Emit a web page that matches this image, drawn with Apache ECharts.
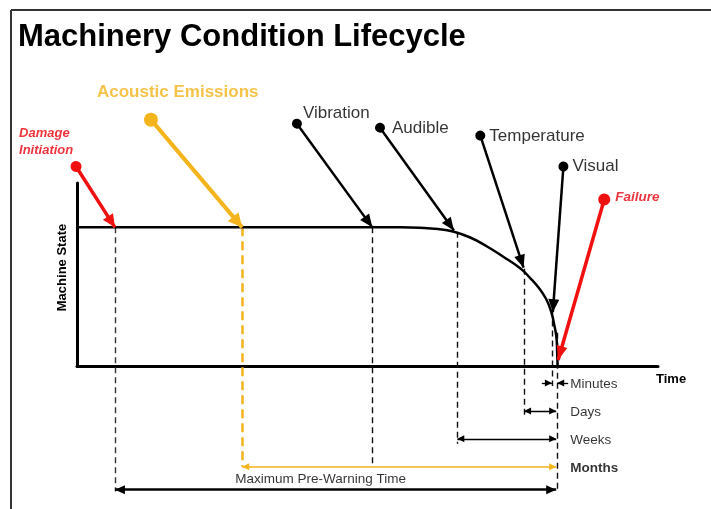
<!DOCTYPE html>
<html>
<head>
<meta charset="utf-8">
<script src="https://cdn.jsdelivr.net/npm/echarts@6/dist/echarts.min.js"></script>
<style>
  html, body { margin: 0; padding: 0; background: #fff; }
  #main { width: 711px; height: 509px; }
</style>
</head>
<body>
<div id="main"></div>
<script>
// time: 0 = damage initiation, 100 = failure; state: 100 = healthy, 0 = failed
var curve = [[0, 100], [67.3, 100], [71.4, 99.7], [75.2, 98.8], [78.3, 97.0], [81.9, 92.7],
  [85.4, 86.2], [88.7, 79.0], [92.3, 70.5], [94.3, 63.8], [96.2, 56.3], [97.7, 48.3],
  [98.7, 39.7], [99.4, 29.6], [99.9, 18.8], [100, 9.4], [100.1, 0]];

// detection cues: where the pointer starts and where it hits the curve
var cues = ['Damage\nInitiation', 'Acoustic Emissions', 'Vibration', 'Audible', 'Temperature', 'Visual', 'Failure'];
var cueFrom = [[-0.2, 143.9], [15.4, 177.7], [45.8, 174.8], [63.1, 171.9], [84.0, 166.2], [101.3, 143.9], [109.8, 120.1]];
var cueTo = [[7.9, 100], [34.4, 100], [61.5, 100], [78.5, 97.8], [93.0, 70.9], [99.1, 38.8], [100.2, 4.3]];

// dashed drop lines under each cue
var dropAt = [7.9, 34.4, 61.5, 79.2, 93.1, 98.9, 100.1];
var dropTop = [100, 100, 100, 96.8, 70.2, 40, 24];
var dropBottom = [-90.6, -72.7, -71.9, -56.1, -36, -14.4, -91.4];

// warning time spans, all ending at failure
var spans = ['Minutes', 'Days', 'Weeks', 'Months'];
var spanFrom = [98.9, 93.1, 79.2, 34.4];
var spanLevel = [-12.2, -32.4, -52.5, -72.7];
var spanEnd = 99.8;
var warnName = 'Maximum Pre-Warning Time';
var warnFrom = 7.9;
var warnLevel = -89.2;

var FONT = "'Liberation Sans', Arial, sans-serif";
var RED = '#f01010';
var ORANGE = '#f4b41c';
// arrow head with its tip at the symbol centre
var HEAD = 'path://M0,-10M0,0L5,10L-5,10Z';

var cueStyle = [
  { color: RED, width: 3.5, dot: 11, head: [12, 26], offset: [-57, -25],
    label: { color: '#e8000b', fontWeight: 'bold', fontStyle: 'italic', fontSize: 13, lineHeight: 17 } },
  { color: ORANGE, width: 4, dot: 14, head: [14, 28], offset: [-54, -27],
    label: { color: ORANGE, fontWeight: 'bold', fontSize: 17 } },
  { color: '#000', width: 2.5, dot: 10, head: [11, 26], offset: [6, -10], label: { fontSize: 17 } },
  { color: '#000', width: 2.5, dot: 10, head: [11, 26], offset: [12, 1], label: { fontSize: 17 } },
  { color: '#000', width: 2.5, dot: 10, head: [11, 26], offset: [9, 1], label: { fontSize: 17 } },
  { color: '#000', width: 2.5, dot: 10, head: [11, 26], offset: [9, 0], label: { fontSize: 17 } },
  { color: RED, width: 3.5, dot: 12, head: [11, 28], offset: [11, -2],
    label: { color: '#e8000b', fontWeight: 'bold', fontStyle: 'italic', fontSize: 13.5 } }
];

var pointers = cues.map(function (c, i) {
  var s = cueStyle[i];
  return {
    coords: [cueFrom[i], cueTo[i]],
    symbol: ['circle', HEAD],
    symbolSize: [s.dot, s.head],
    lineStyle: { color: s.color, width: s.width, opacity: 1 }
  };
});

var drops = dropAt.map(function (x, i) {
  var orange = i === 1;
  return {
    coords: [[x, dropTop[i]], [x, dropBottom[i]]],
    lineStyle: {
      color: orange ? ORANGE : (i === 0 ? '#333' : '#111'),
      width: orange ? 2.5 : 1.4,
      type: orange ? [9, 5] : [6, 4],
      opacity: 1
    }
  };
});

var dims = [];
// minutes: two short arrows pointing in
dims.push({ coords: [[spanFrom[0] - 2.1, spanLevel[0]], [spanFrom[0], spanLevel[0]]],
  symbol: ['none', HEAD], symbolSize: [1, [7, 14]], lineStyle: { color: '#000', width: 1.3, opacity: 1 } });
dims.push({ coords: [[spanEnd + 2.5, spanLevel[0]], [spanEnd + 0.2, spanLevel[0]]],
  symbol: ['none', HEAD], symbolSize: [1, [7, 14]], lineStyle: { color: '#000', width: 1.3, opacity: 1 } });
for (var i = 1; i < spans.length; i++) {
  var months = i === 3;
  dims.push({ coords: [[spanFrom[i], spanLevel[i]], [spanEnd, spanLevel[i]]],
    symbol: [HEAD, HEAD], symbolSize: [[7, 14], [7, 14]],
    lineStyle: { color: months ? ORANGE : '#000', width: months ? 1.6 : 1.4, opacity: 1 } });
}
dims.push({ coords: [[warnFrom, warnLevel], [spanEnd, warnLevel]],
  symbol: [HEAD, HEAD], symbolSize: [[9, 20], [9, 20]], lineStyle: { color: '#000', width: 2.5, opacity: 1 } });

var cueLabels = cues.map(function (c, i) {
  var s = cueStyle[i];
  return {
    name: c, value: cueFrom[i],
    label: Object.assign({ offset: s.offset, color: '#000', fontFamily: FONT }, s.label)
  };
});

var spanLabels = spans.map(function (s, i) {
  return {
    name: s, value: [spanEnd, spanLevel[i]],
    label: { offset: [14, 1], fontSize: 13.5, fontWeight: i === 3 ? 'bold' : 'normal' }
  };
});
spanLabels.push({
  name: warnName, value: [(warnFrom + spanEnd) / 2, warnLevel],
  label: { position: 'inside', offset: [-15, -10], fontSize: 13.5 }
});

var chart = echarts.init(document.getElementById('main'));
chart.setOption({
  animation: false,
  backgroundColor: '#fff',
  title: {
    text: 'Machinery Condition Lifecycle',
    left: 13, top: 17,
    textStyle: { fontSize: 31, fontWeight: 'bold', color: '#000', fontFamily: FONT }
  },
  graphic: [
    { type: 'line', shape: { x1: 11, y1: 10, x2: 711, y2: 10 }, style: { stroke: '#333', lineWidth: 2 } },
    { type: 'line', shape: { x1: 11, y1: 10, x2: 11, y2: 509 }, style: { stroke: '#333', lineWidth: 2 } }
  ],
  grid: { left: 77, right: 53, top: 183, bottom: 143 },
  xAxis: {
    type: 'value', min: 0, max: 121,
    name: 'Time', nameLocation: 'end', nameGap: -2,
    nameTextStyle: { color: '#000', fontWeight: 'bold', fontSize: 13, fontFamily: FONT, verticalAlign: 'top', padding: [7, 0, 0, 0] },
    axisLine: { lineStyle: { color: '#000', width: 3 } },
    axisTick: { show: false }, axisLabel: { show: false }, splitLine: { show: false }
  },
  yAxis: {
    type: 'value', min: 0, max: 132,
    name: 'Machine State', nameLocation: 'middle', nameGap: 8,
    nameTextStyle: { color: '#000', fontWeight: 'bold', fontSize: 13, fontFamily: FONT, padding: [0, 0, 0, 14] },
    axisLine: { lineStyle: { color: '#000', width: 3 } },
    axisTick: { show: false }, axisLabel: { show: false }, splitLine: { show: false }
  },
  series: [
    {
      type: 'lines', coordinateSystem: 'cartesian2d', clip: false, silent: true, z: 2,
      lineStyle: { opacity: 1 }, data: drops
    },
    {
      type: 'line', data: curve, smooth: 0.5, showSymbol: false, clip: false, silent: true, z: 3,
      lineStyle: { color: '#000', width: 2.5 }
    },
    {
      type: 'lines', coordinateSystem: 'cartesian2d', clip: false, silent: true, z: 4,
      lineStyle: { opacity: 1 }, data: dims
    },
    {
      type: 'lines', coordinateSystem: 'cartesian2d', clip: false, silent: true, z: 5,
      lineStyle: { opacity: 1 }, data: pointers
    },
    {
      type: 'scatter', symbolSize: 0, clip: false, silent: true, z: 6,
      label: { show: true, position: 'right', distance: 0, formatter: '{b}', color: '#000', fontFamily: FONT },
      data: cueLabels.concat(spanLabels)
    }
  ]
});
</script>
</body>
</html>
